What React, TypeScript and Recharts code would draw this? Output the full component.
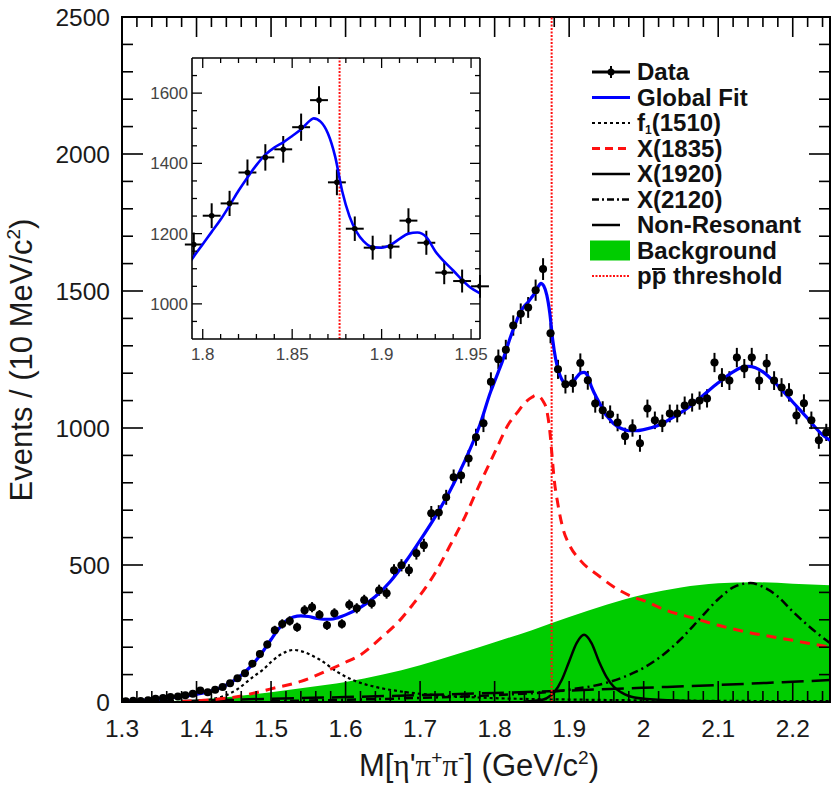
import React from 'react';
import {
  ComposedChart,
  Line,
  Area,
  Scatter,
  ErrorBar,
  XAxis,
  YAxis,
  ReferenceLine,
  ReferenceArea,
  Legend,
} from 'recharts';

const FONT = "'Liberation Sans', Arial, Helvetica, sans-serif";
const SERIF = "'Liberation Serif', 'Times New Roman', serif";

// histogram: 10 MeV bins starting at 1.30 GeV
const BIN_START = 1.305;
const BIN_WIDTH = 0.01;
const dataCounts = [
  3, 5, 4, 6, 12, 15, 18, 20, 25, 30,
  42, 36, 45, 55, 68, 87, 105, 140, 175, 210,
  262, 285, 296, 273, 335, 346, 318, 280, 324, 285,
  355, 342, 372, 360, 408, 397, 481, 499, 481, 543,
  572, 689, 692, 747, 820, 827, 889, 966, 1017, 1169,
  1251, 1286, 1374, 1417, 1440, 1503, 1580, 1346, 1214, 1160,
  1163, 1237, 1174, 1089, 1065, 1050, 1020, 970, 1000, 944,
  1071, 1028, 1017, 1053, 1053, 1082, 1093, 1100, 1108, 1239,
  1184, 1173, 1257, 1217, 1257, 1173, 1235, 1173, 1148, 1130,
  1046, 1090, 1028, 955, 984,
];

const fitCurve = [
  [1.30, 3], [1.32, 5], [1.34, 9], [1.36, 14], [1.38, 20], [1.40, 28], [1.42, 40], [1.44, 62],
  [1.46, 98], [1.48, 152], [1.49, 188], [1.50, 228], [1.51, 266], [1.52, 296], [1.53, 310],
  [1.54, 314], [1.55, 312], [1.56, 306], [1.57, 302], [1.58, 302], [1.59, 308], [1.60, 318],
  [1.62, 345], [1.64, 385], [1.66, 440], [1.68, 510], [1.70, 590], [1.72, 675], [1.74, 770],
  [1.76, 880], [1.78, 1010], [1.795, 1135], [1.80, 1170], [1.805, 1205], [1.81, 1240],
  [1.815, 1280], [1.82, 1322], [1.825, 1360], [1.83, 1395], [1.835, 1425], [1.84, 1445],
  [1.845, 1460], [1.85, 1478], [1.855, 1497], [1.86, 1522], [1.862, 1528], [1.866, 1518],
  [1.87, 1485], [1.874, 1420], [1.878, 1320], [1.882, 1250], [1.886, 1205], [1.89, 1178],
  [1.895, 1162], [1.90, 1160], [1.905, 1168], [1.91, 1185], [1.915, 1200], [1.92, 1203],
  [1.925, 1190], [1.93, 1150], [1.94, 1095], [1.95, 1045], [1.955, 1030], [1.96, 1015],
  [1.97, 998], [1.98, 990], [1.99, 990], [2.00, 994], [2.02, 1010], [2.04, 1040], [2.06, 1075],
  [2.08, 1120], [2.10, 1165], [2.12, 1205], [2.13, 1220], [2.14, 1225], [2.15, 1220],
  [2.16, 1205], [2.18, 1155], [2.20, 1095], [2.22, 1035], [2.24, 975], [2.25, 955],
];

const f1Curve = [
  [1.40, 3], [1.42, 10], [1.44, 25], [1.455, 47], [1.475, 90], [1.49, 120], [1.50, 146],
  [1.51, 168], [1.52, 183], [1.53, 190], [1.54, 186], [1.55, 176], [1.565, 155], [1.59, 108],
  [1.61, 80], [1.64, 55], [1.67, 40], [1.70, 30], [1.75, 20], [1.80, 14], [1.90, 9],
  [2.00, 6], [2.25, 3],
];

const x1835Curve = [
  [1.38, 2], [1.42, 8], [1.46, 22], [1.50, 48], [1.54, 75], [1.58, 120], [1.60, 145],
  [1.62, 172], [1.65, 240], [1.67, 290], [1.69, 355], [1.70, 390], [1.72, 470], [1.74, 570],
  [1.76, 675], [1.78, 795], [1.80, 910], [1.82, 1020], [1.83, 1055], [1.84, 1090],
  [1.85, 1112], [1.855, 1119], [1.86, 1115], [1.865, 1098], [1.87, 1064], [1.874, 990],
  [1.877, 900], [1.88, 810], [1.884, 736], [1.892, 630], [1.90, 575], [1.915, 517],
  [1.94, 460], [1.96, 420], [1.986, 383], [2.00, 370], [2.03, 335], [2.067, 306],
  [2.10, 280], [2.139, 255], [2.20, 225], [2.25, 200],
];

const x1920Curve = [
  [1.84, 2], [1.86, 6], [1.87, 14], [1.88, 35], [1.89, 80], [1.90, 148], [1.91, 215],
  [1.92, 245], [1.93, 215], [1.94, 148], [1.95, 92], [1.96, 55], [1.97, 35], [1.98, 22],
  [2.00, 12], [2.05, 5], [2.10, 3],
];

const x2120Curve = [
  [1.50, 3], [1.60, 8], [1.70, 15], [1.80, 25], [1.90, 45], [1.95, 70], [1.973, 91],
  [2.00, 125], [2.022, 164], [2.05, 230], [2.076, 306], [2.10, 375], [2.12, 418],
  [2.143, 434], [2.16, 420], [2.18, 385], [2.20, 330], [2.228, 262], [2.25, 215],
];

const nonResCurve = [
  [1.30, 0], [1.40, 5], [1.50, 12], [1.60, 18], [1.70, 25], [1.80, 33], [1.90, 42],
  [2.00, 52], [2.10, 62], [2.20, 74], [2.25, 80],
];

const bkgCurve = [
  [1.30, 0], [1.35, 2], [1.40, 8], [1.45, 20], [1.50, 36], [1.55, 54], [1.60, 73],
  [1.65, 100], [1.70, 134], [1.75, 175], [1.80, 218], [1.85, 262], [1.90, 310],
  [1.95, 355], [2.00, 392], [2.05, 418], [2.10, 433], [2.15, 437], [2.20, 432], [2.25, 426],
];

const THRESHOLD = 1.8765; // 2 m_p

const legendLabels = [
  'Data', 'Global Fit', 'f1(1510)', 'X(1835)', 'X(1920)', 'X(2120)',
  'Non-Resonant', 'Background', 'pp threshold',
];

// axes
const X_DOMAIN = [1.3, 2.25];
const Y_DOMAIN = [0, 2500];
const xTicks = Array.from({ length: 48 }, (_, i) => +(1.3 + i * 0.02).toFixed(2));
const yTicks = Array.from({ length: 26 }, (_, i) => i * 100);
const MAIN_MARGIN = { top: 16, right: 2, bottom: 44, left: 62 };
const X_PER_PX = (X_DOMAIN[1] - X_DOMAIN[0]) / 708; // for right-hand tick length

const INSET_X_DOMAIN = [1.794, 1.955];
const INSET_Y_DOMAIN = [900, 1700];
const insetXTicks = Array.from({ length: 16 }, (_, i) => +(1.8 + i * 0.01).toFixed(2));
const insetYTicks = Array.from({ length: 15 }, (_, i) => 950 + i * 50);

const toPts = (arr: number[][]) => arr.map(([x, y]) => ({ x, y }));

const dataPoints = dataCounts.map((n, i) => ({
  x: +(BIN_START + i * BIN_WIDTH).toFixed(3),
  y: n,
  ex: BIN_WIDTH / 2,
  ey: Math.sqrt(n),
}));
const insetPoints = dataPoints.filter((d) => d.x > 1.79 && d.x < 1.96);
const insetFit = toPts(fitCurve.filter(([x]) => x > 1.77 && x < 1.98));

const isMultiple = (v: number, step: number) => {
  const r = v / step;
  return Math.abs(r - Math.round(r)) < 1e-6;
};
const fmtX = (v: number) => String(Math.round(v * 10) / 10);

// ---- main axis ticks (ROOT style, pointing inward) ----
const BottomTick = (p: any) => {
  const v = p.payload.value;
  const major = isMultiple(v, 0.1);
  return (
    <g>
      <line x1={p.x} x2={p.x} y1={p.y} y2={p.y - (major ? 21 : 11)} stroke="#000" strokeWidth={1.6} />
      {major && (
        <text x={p.x} y={p.y + 35} textAnchor="middle" fontFamily={FONT} fontSize={24.5} fill="#1a1a1a">
          {fmtX(v)}
        </text>
      )}
    </g>
  );
};
const TopTick = (p: any) => {
  const major = isMultiple(p.payload.value, 0.1);
  return <line x1={p.x} x2={p.x} y1={p.y} y2={p.y + (major ? 20 : 10)} stroke="#000" strokeWidth={1.6} />;
};
const LeftTick = (p: any) => {
  const v = p.payload.value;
  const major = isMultiple(v, 500);
  return (
    <g>
      <line x1={p.x} x2={p.x + (major ? 21 : 11)} y1={p.y} y2={p.y} stroke="#000" strokeWidth={1.6} />
      {major && (
        <text x={p.x - 12} y={p.y + 9} textAnchor="end" fontFamily={FONT} fontSize={24.5} fill="#1a1a1a">
          {v}
        </text>
      )}
    </g>
  );
};

// ---- inset ticks ----
const InsetBottomTick = (p: any) => {
  const v = p.payload.value;
  const major = isMultiple(v, 0.05);
  return (
    <g>
      <line x1={p.x} x2={p.x} y1={p.y} y2={p.y - (major ? 10 : 5)} stroke="#000" strokeWidth={1.3} />
      {major && (
        <text x={p.x} y={p.y + 21} textAnchor="middle" fontFamily={FONT} fontSize={17} fill="#444">
          {String(v)}
        </text>
      )}
    </g>
  );
};
const InsetTopTick = (p: any) => {
  const major = isMultiple(p.payload.value, 0.05);
  return <line x1={p.x} x2={p.x} y1={p.y} y2={p.y + (major ? 10 : 5)} stroke="#000" strokeWidth={1.3} />;
};
const InsetLeftTick = (p: any) => {
  const v = p.payload.value;
  const major = isMultiple(v, 200);
  return (
    <g>
      <line x1={p.x} x2={p.x + (major ? 10 : 5)} y1={p.y} y2={p.y} stroke="#000" strokeWidth={1.3} />
      {major && (
        <text x={p.x - 4} y={p.y + 6} textAnchor="end" fontFamily={FONT} fontSize={17} fill="#444">
          {v}
        </text>
      )}
    </g>
  );
};
const InsetRightTick = (p: any) => {
  const major = isMultiple(p.payload.value, 200);
  return <line x1={p.x} x2={p.x - (major ? 10 : 5)} y1={p.y} y2={p.y} stroke="#000" strokeWidth={1.3} />;
};

// ---- titles ----
const XTitle = () => {
  const cx = 479;
  const y = 776;
  return (
    <text x={cx} y={y} textAnchor="middle" fontFamily={FONT} fontSize={31} fill="#1a1a1a">
      M[<tspan fontFamily={SERIF}>η</tspan>'<tspan fontFamily={SERIF}>π</tspan>
      <tspan dy={-12} fontSize={19}>+</tspan>
      <tspan dy={12} fontFamily={SERIF}>π</tspan>
      <tspan dy={-12} fontSize={19}>-</tspan>
      <tspan dy={12}>] (GeV/c</tspan>
      <tspan dy={-12} fontSize={19}>2</tspan>
      <tspan dy={12}>)</tspan>
    </text>
  );
};
const YTitle = () => {
  const x = 32;
  const cy = 360;
  return (
    <text
      x={x}
      y={cy}
      transform={`rotate(-90, ${x}, ${cy})`}
      textAnchor="middle"
      fontFamily={FONT}
      fontSize={31}
      fill="#1a1a1a"
    >
      Events / (10 MeV/c<tspan dy={-12} fontSize={19}>2</tspan>
      <tspan dy={12}>)</tspan>
    </text>
  );
};

// ---- legend ----
const LegendBox = () => {
  const x0 = 7;
  const x1 = 45;
  const rowY = (i: number) => 17 + i * 25.5;
  const textProps = { x: 52, fontFamily: FONT, fontSize: 24, fontWeight: 700, fill: '#111' };
  const sym = (i: number) => {
    const y = rowY(i);
    switch (i) {
      case 0:
        return (
          <g>
            <line x1={x0} x2={x1} y1={y} y2={y} stroke="#000" strokeWidth={3} />
            <line x1={(x0 + x1) / 2} x2={(x0 + x1) / 2} y1={y - 6} y2={y + 6} stroke="#000" strokeWidth={2} />
            <circle cx={(x0 + x1) / 2} cy={y} r={3.5} fill="#000" />
          </g>
        );
      case 1:
        return <line x1={x0} x2={x1} y1={y} y2={y} stroke="#0000ff" strokeWidth={3} />;
      case 2:
        return <line x1={x0} x2={x1} y1={y} y2={y} stroke="#000" strokeWidth={2} strokeDasharray="3 3" />;
      case 3:
        return <line x1={x0} x2={x1} y1={y} y2={y} stroke="#ff1010" strokeWidth={3} strokeDasharray="8 5" />;
      case 4:
        return <line x1={x0} x2={x1} y1={y} y2={y} stroke="#000" strokeWidth={2.5} />;
      case 5:
        return <line x1={x0} x2={x1} y1={y} y2={y} stroke="#000" strokeWidth={2.5} strokeDasharray="7 3 2 3" />;
      case 6:
        return <line x1={x0} x2={x1 - 10} y1={y} y2={y} stroke="#000" strokeWidth={2.5} />;
      case 7:
        return <rect x={x0 - 2} y={y - 10} width={x1 - x0 + 2} height={20} fill="#00cc00" />;
      default:
        return <line x1={x0} x2={x1} y1={y} y2={y} stroke="#ff1010" strokeWidth={2} strokeDasharray="2 1.5" />;
    }
  };
  const label = (i: number) => {
    const name = legendLabels[i];
    const y = rowY(i) + 8;
    if (i === 2) {
      return (
        <text {...textProps} y={y}>
          f<tspan dy={3} fontSize={12}>1</tspan>
          <tspan dy={-3}>{name.slice(2)}</tspan>
        </text>
      );
    }
    if (i === 8) {
      // second p carries an overbar (antiproton)
      return (
        <g>
          <text {...textProps} y={y}>
            {name}
          </text>
          <line x1={67} x2={80} y1={y - 15} y2={y - 15} stroke="#111" strokeWidth={2} />
        </g>
      );
    }
    return (
      <text {...textProps} y={y}>
        {name}
      </text>
    );
  };
  return (
    <svg width={245} height={240}>
      {legendLabels.map((_, i) => (
        <g key={i}>
          {sym(i)}
          {label(i)}
        </g>
      ))}
    </svg>
  );
};

const DataDot = (p: any) => <circle cx={p.cx} cy={p.cy} r={4} fill="#000" />;
const InsetDot = (p: any) => <circle cx={p.cx} cy={p.cy} r={2.8} fill="#000" />;

function MainChart() {
  const ax = { xAxisId: 'b', yAxisId: 'l' };
  return (
    <ComposedChart width={832} height={786} margin={MAIN_MARGIN}>
      <XAxis
        xAxisId="b"
        type="number"
        dataKey="x"
        domain={X_DOMAIN}
        allowDataOverflow
        ticks={xTicks}
        interval={0}
        height={40}
        tickSize={0}
        tickMargin={0}
        tickLine={false}
        tick={(p: any) => <BottomTick {...p} />}
        axisLine={{ stroke: '#000', strokeWidth: 2 }}
        label={() => <XTitle />}
      />
      <XAxis
        xAxisId="t"
        orientation="top"
        type="number"
        dataKey="x"
        domain={X_DOMAIN}
        allowDataOverflow
        ticks={xTicks}
        interval={0}
        height={1}
        tickSize={0}
        tickMargin={0}
        tickLine={false}
        tick={(p: any) => <TopTick {...p} />}
        axisLine={false}
      />
      <YAxis
        yAxisId="l"
        type="number"
        domain={Y_DOMAIN}
        allowDataOverflow
        ticks={yTicks}
        interval={0}
        width={60}
        tickSize={0}
        tickMargin={0}
        tickLine={false}
        tick={(p: any) => <LeftTick {...p} />}
        axisLine={{ stroke: '#000', strokeWidth: 2 }}
        label={() => <YTitle />}
      />
      <Area
        {...ax}
        data={toPts(bkgCurve)}
        dataKey="y"
        type="monotone"
        stroke="none"
        fill="#00cc00"
        fillOpacity={1}
        isAnimationActive={false}
      />
      <Line {...ax} data={toPts(nonResCurve)} dataKey="y" type="monotone" stroke="#000" strokeWidth={2.5}
        strokeDasharray="22 8" dot={false} isAnimationActive={false} />
      <Line {...ax} data={toPts(x2120Curve)} dataKey="y" type="monotone" stroke="#000" strokeWidth={2.5}
        strokeDasharray="9 4 2 4" dot={false} isAnimationActive={false} />
      <Line {...ax} data={toPts(x1920Curve)} dataKey="y" type="monotone" stroke="#000" strokeWidth={2.5}
        dot={false} isAnimationActive={false} />
      <Line {...ax} data={toPts(f1Curve)} dataKey="y" type="monotone" stroke="#000" strokeWidth={2.2}
        strokeDasharray="3 3" dot={false} isAnimationActive={false} />
      <Line {...ax} data={toPts(x1835Curve)} dataKey="y" type="monotone" stroke="#ff1010" strokeWidth={3}
        strokeDasharray="10 7" dot={false} isAnimationActive={false} />
      <ReferenceLine {...ax} x={THRESHOLD} stroke="#ff1010" strokeWidth={2} strokeDasharray="2 1.5" />
      <Scatter {...ax} data={dataPoints} dataKey="y" shape={DataDot} isAnimationActive={false}>
        <ErrorBar dataKey="ey" direction="y" width={0} stroke="#000" strokeWidth={2} isAnimationActive={false} />
        <ErrorBar dataKey="ex" direction="x" width={0} stroke="#000" strokeWidth={2} isAnimationActive={false} />
      </Scatter>
      <Line {...ax} data={toPts(fitCurve)} dataKey="y" type="monotone" stroke="#0000ff" strokeWidth={3.2}
        dot={false} isAnimationActive={false} />
      <Line xAxisId="t" yAxisId="l" data={toPts(nonResCurve)} dataKey="y" stroke="none" dot={false}
        legendType="none" isAnimationActive={false} />
      {/* plot frame and right-hand ticks */}
      <ReferenceArea {...ax} x1={X_DOMAIN[0]} x2={X_DOMAIN[1]} y1={Y_DOMAIN[0]} y2={Y_DOMAIN[1]}
        fill="none" stroke="#000" strokeWidth={2} ifOverflow="visible" />
      {yTicks.slice(1, -1).map((v) => (
        <ReferenceLine
          key={v}
          {...ax}
          ifOverflow="visible"
          stroke="#000"
          strokeWidth={1.6}
          segment={[
            { x: X_DOMAIN[1], y: v },
            { x: X_DOMAIN[1] - (isMultiple(v, 500) ? 21 : 11) * X_PER_PX, y: v },
          ]}
        />
      ))}
      <Legend
        layout="vertical"
        align="center"
        verticalAlign="middle"
        content={() => <LegendBox />}
        wrapperStyle={{ position: 'absolute', left: 585, top: 55, width: 245, height: 240 }}
      />
    </ComposedChart>
  );
}

function InsetChart() {
  const ax = { xAxisId: 'b', yAxisId: 'l' };
  return (
    <ComposedChart width={350} height={320} margin={{ top: 7, right: 9, bottom: 6, left: 12 }}>
      <XAxis
        xAxisId="b"
        type="number"
        dataKey="x"
        domain={INSET_X_DOMAIN}
        allowDataOverflow
        ticks={insetXTicks}
        interval={0}
        height={25}
        tickSize={0}
        tickMargin={0}
        tickLine={false}
        tick={(p: any) => <InsetBottomTick {...p} />}
        axisLine={{ stroke: '#000', strokeWidth: 1.6 }}
      />
      <XAxis
        xAxisId="t"
        orientation="top"
        type="number"
        dataKey="x"
        domain={INSET_X_DOMAIN}
        allowDataOverflow
        ticks={insetXTicks}
        interval={0}
        height={1}
        tickSize={0}
        tickMargin={0}
        tickLine={false}
        tick={(p: any) => <InsetTopTick {...p} />}
        axisLine={{ stroke: '#000', strokeWidth: 1.6 }}
      />
      <YAxis
        yAxisId="l"
        type="number"
        domain={INSET_Y_DOMAIN}
        allowDataOverflow
        ticks={insetYTicks}
        interval={0}
        width={40}
        tickSize={0}
        tickMargin={0}
        tickLine={false}
        tick={(p: any) => <InsetLeftTick {...p} />}
        axisLine={{ stroke: '#000', strokeWidth: 1.6 }}
      />
      <YAxis
        yAxisId="r"
        orientation="right"
        type="number"
        domain={INSET_Y_DOMAIN}
        allowDataOverflow
        ticks={insetYTicks}
        interval={0}
        width={1}
        tickSize={0}
        tickMargin={0}
        tickLine={false}
        tick={(p: any) => <InsetRightTick {...p} />}
        axisLine={{ stroke: '#000', strokeWidth: 1.6 }}
      />
      <ReferenceLine {...ax} x={THRESHOLD} stroke="#ff1010" strokeWidth={2} strokeDasharray="2 1.5" />
      <Scatter {...ax} data={insetPoints} dataKey="y" shape={InsetDot} isAnimationActive={false}>
        <ErrorBar dataKey="ey" direction="y" width={0} stroke="#000" strokeWidth={2} isAnimationActive={false} />
        <ErrorBar dataKey="ex" direction="x" width={0} stroke="#000" strokeWidth={2} isAnimationActive={false} />
      </Scatter>
      <Line {...ax} data={insetFit} dataKey="y" type="monotone" stroke="#0000ff" strokeWidth={2.6}
        dot={false} isAnimationActive={false} />
      <Line xAxisId="t" yAxisId="r" data={insetFit} dataKey="y" stroke="none" dot={false}
        legendType="none" isAnimationActive={false} />
    </ComposedChart>
  );
}

export default function App() {
  return (
    <div style={{ position: 'relative', width: 832, height: 786, background: '#fff', overflow: 'hidden' }}>
      <style>{'html, body { margin: 0; padding: 0; overflow: hidden; }'}</style>
      <MainChart />
      <div style={{ position: 'absolute', left: 140, top: 50 }}>
        <InsetChart />
      </div>
    </div>
  );
}
